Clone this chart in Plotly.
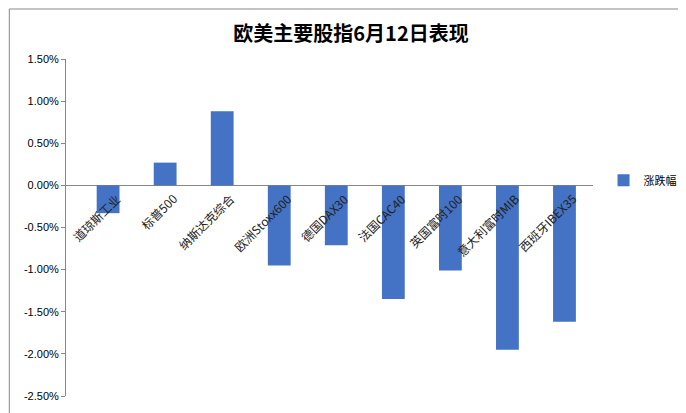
import plotly.graph_objects as go

categories = ["道琼斯工业", "标普500", "纳斯达克综合", "欧洲Stoxx600", "德国DAX30",
              "法国CAC40", "英国富时100", "意大利富时MIB", "西班牙IBEX35"]
changes = [-0.33, 0.27, 0.88, -0.95, -0.71, -1.35, -1.01, -1.95, -1.62]
yticks = [1.5, 1.0, 0.5, 0.0, -0.5, -1.0, -1.5, -2.0, -2.5]

fig = go.Figure()
fig.add_trace(go.Bar(x=categories, y=changes, name="涨跌幅",
                     marker=dict(color="#4472C4", line=dict(width=0)),
                     width=0.4, showlegend=True))

for c in categories:
    fig.add_annotation(x=c, y=0, text=c, textangle=-45, showarrow=False,
                       xanchor="right", yanchor="top", xshift=18, yshift=-2,
                       font=dict(size=12, color="#222", family="Noto Sans CJK SC"))

pw, ph = 686 - 58 - 98, 413 - 51 - 25
fig.update_layout(
    width=686, height=413,
    paper_bgcolor="white", plot_bgcolor="white",
    title=dict(text="<b>欧美主要股指6月12日表现</b>", x=0.5, y=0.955,
               font=dict(size=20, family="Noto Sans CJK SC", color="black")),
    margin=dict(l=58, r=98, t=51, b=25),
    legend=dict(x=1.02, y=0.64, font=dict(size=11, family="Noto Sans CJK SC",
                                          color="black")),
    shapes=[dict(type="rect", xref="paper", yref="paper",
                 x0=-57 / pw, x1=1 + 97 / pw, y0=-24 / ph, y1=1 + 50 / ph,
                 line=dict(color="#888", width=1))],
)
fig.update_xaxes(showticklabels=False, showline=False, showgrid=False,
                 zeroline=False)
fig.update_yaxes(range=[-2.5, 1.5], tickvals=yticks,
                 ticktext=[f"{v:.2f}%" for v in yticks],
                 showgrid=False, showline=True, linecolor="#888",
                 ticks="outside", ticklen=4, tickcolor="#888",
                 zeroline=True, zerolinecolor="#888", zerolinewidth=1,
                 tickfont=dict(size=11, family="Liberation Sans", color="black"))

fig.write_html("out.html")
